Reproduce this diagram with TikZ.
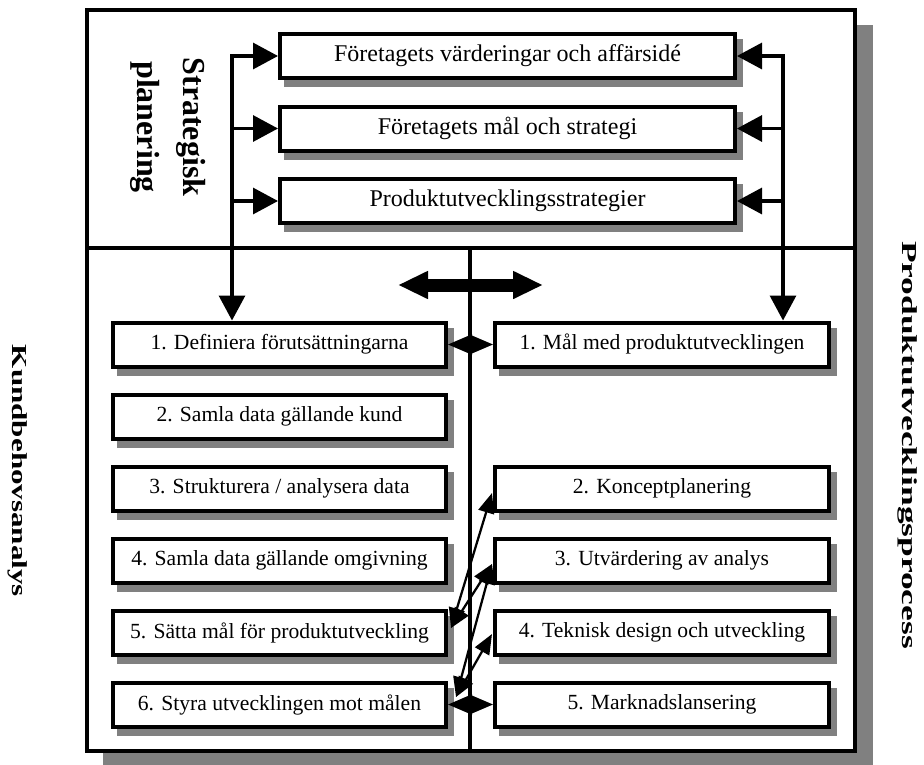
\documentclass[tikz,border=0pt]{standalone}
\usepackage{graphicx}
\usepackage{fontspec}
\setmainfont{Liberation Serif}
\usetikzlibrary{arrows.meta,shadows,calc}
\definecolor{shadowgray}{RGB}{128,128,128}

\tikzset{
  frameline/.style={line width=2.6pt},
  stepbox/.style={draw=black, line width=3pt, fill=white, minimum height=33pt,
    inner sep=0pt, font=\fontsize{16.2}{18}\selectfont,
    drop shadow={shadow xshift=4.5pt, shadow yshift=-5.25pt,
      fill=shadowgray, draw=shadowgray, line width=3pt, opacity=1}},
  topbox/.style={stepbox, minimum width=341.25pt, font=\fontsize{18}{20}\selectfont},
  leftbox/.style={stepbox, minimum width=249.75pt},
  rightbox/.style={stepbox, minimum width=250.5pt},
  link/.style={line width=2.4pt},
  bigtips/.style={{Triangle[length=18.75pt,width=19.5pt]}-{Triangle[length=18.75pt,width=19.5pt]}},
  bigtip/.style={-{Triangle[length=18.75pt,width=19.5pt]}},
  diamondlink/.style={line width=1.5pt,
    {Triangle[length=18pt,width=15pt]}-{Triangle[length=18pt,width=15pt]}},
  crosslink/.style={line width=1.7pt,
    {Triangle[length=15pt,width=12pt]}-{Triangle[length=15pt,width=12pt]}},
  sidelabel/.style={rotate=-90, inner sep=0pt},
}

\begin{document}
\begin{tikzpicture}[x=0.75pt, y=-0.75pt]
\useasboundingbox (0,0) rectangle (924,764);

% outer frame with its shadow
\fill[shadowgray] (103,25) rectangle (873,772);
\draw[frameline, fill=white] (87,10) rectangle (855,751);
\draw[frameline] (87,248) -- (855,248);
\draw[frameline] (470,248) -- (470,751);

% strategic planning boxes
\node[topbox] (T1) at (507.5,56)  {Företagets värderingar och affärsidé};
\node[topbox] (T2) at (507.5,128.5) {Företagets mål och strategi};
\node[topbox] (T3) at (507.5,201) {Produktutvecklingsstrategier};

% customer needs analysis steps
\node[leftbox] (L1) at (279.5,344.5) {1. Definiera förutsättningarna};
\node[leftbox] (L2) at (279.5,416.5) {2. Samla data gällande kund};
\node[leftbox] (L3) at (279.5,488.5) {3. Strukturera / analysera data};
\node[leftbox] (L4) at (279.5,560.5) {4. Samla data gällande omgivning};
\node[leftbox] (L5) at (279.5,632.5) {5. Sätta mål för produktutveckling};
\node[leftbox] (L6) at (279.5,704.5) {6. Styra utvecklingen mot målen};

% product development steps
\node[rightbox] (R1) at (662,344.5) {1. Mål med produktutvecklingen};
\node[rightbox] (R2) at (662,488.5) {2. Konceptplanering};
\node[rightbox] (R3) at (662,560.5) {3. Utvärdering av analys};
\node[rightbox] (R4) at (662,632.5) {4. Teknisk design och utveckling};
\node[rightbox] (R5) at (662,704.5) {5. Marknadslansering};

% side labels
\node[sidelabel, align=center, font=\fontsize{24}{34.5}\selectfont\bfseries]
  (SP) at (168,127) {Strategisk\\planering};
\node[sidelabel, font=\fontsize{16}{16}\selectfont\bfseries]
  (KB) at (18,471) {\scalebox{1.456}[1]{Kundbehovsanalys}};
\node[sidelabel, font=\fontsize{16}{16}\selectfont\bfseries]
  (PP) at (907.5,445) {\scalebox{1.66}[1]{Produktutvecklingsprocess}};

% feed lines from the strategy boxes down to both processes
\coordinate (SL) at (232,56);
\coordinate (SR) at (783,56);
\draw[link, bigtips] (T1.west) -- (SL) -- (SL |- L1.north);
\draw[link, bigtip] (SL |- T2.west) -- (T2.west);
\draw[link, bigtip] (SL |- T3.west) -- (T3.west);
\draw[link, bigtips] (T1.east) -- (SR) -- (SR |- R1.north);
\draw[link, bigtip] (SR |- T2.east) -- (T2.east);
\draw[link, bigtip] (SR |- T3.east) -- (T3.east);

% exchange between the two processes
\coordinate (XL) at (398,285);
\coordinate (XR) at (543,285);
\draw[line width=9.75pt,
  {Triangle[length=22.5pt,width=19.5pt]}-{Triangle[length=22.5pt,width=19.5pt]}]
  (XL) -- (XR);

\draw[diamondlink] (L1.east) -- (R1.west);
\draw[diamondlink] (L6.east) -- (R5.west);

% crossing links between the lower steps
\coordinate (L5p) at ($(L5.east)+(3,-4.5)$);
\coordinate (L6p) at ($(L6.east)+(8,-7.5)$);
\coordinate (R2p) at ($(R2.west)+(-1,4.5)$);
\coordinate (R3p) at ($(R3.west)+(-1,3.5)$);
\coordinate (R4p) at ($(R4.west)+(-1,1.5)$);
\draw[crosslink] (L5p) -- (R2p);
\draw[crosslink] (L5p) -- (R3p);
\draw[crosslink] (L6p) -- (R3p);
\draw[crosslink] (L6p) -- (R4p);
\end{tikzpicture}
\end{document}
